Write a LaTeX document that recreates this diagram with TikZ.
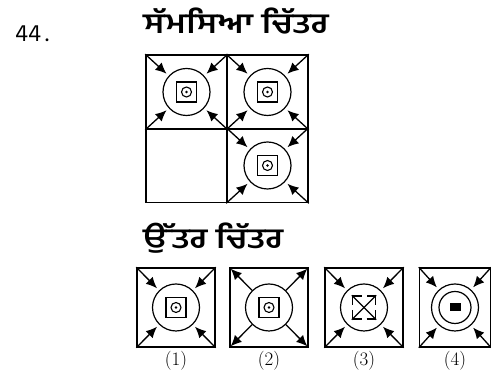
\documentclass[tikz,border=0pt]{standalone}
\usepackage{fontspec}
\newfontfamily\gurmukhi[Script=Gurmukhi, FakeStretch=1.22]{Hind Jalandhar}
\newfontfamily\numfont{Hind Jalandhar}
\usetikzlibrary{arrows.meta,positioning}
\tikzset{
  cell/.style={draw, line width=1.6pt, inner sep=0pt, minimum width=81pt, minimum height=74pt},
  ansbox/.style={draw, line width=1.5pt, inner sep=0pt, minimum width=78pt, minimum height=79pt},
  ring/.style={draw, circle, line width=1.2pt, inner sep=0pt, minimum size=47pt},
  innerring/.style={draw, circle, line width=1.2pt, inner sep=0pt, minimum size=32pt},
  sq/.style={draw, line width=1.4pt, inner sep=0pt, minimum size=20pt},
  dashsq/.style={draw, line width=1.4pt, inner sep=0pt, minimum size=23pt,
    dash pattern=on 18pt off 5pt, dash phase=9pt},
  eye/.style={draw, circle, line width=1.1pt, inner sep=0pt, minimum size=10pt},
  dot/.style={fill, circle, inner sep=0pt, minimum size=2.6pt},
  blob/.style={fill, inner sep=0pt, minimum width=11pt, minimum height=8pt},
  inarrow/.style={draw, -{Latex[length=11pt,width=10pt]}, line width=1.3pt, shorten >=3pt},
  outarrow/.style={draw, -{Latex[length=11pt,width=10pt]}, line width=1.3pt, shorten >=2pt},
  title/.style={font=\gurmukhi\bfseries\fontsize{28}{32}\selectfont, anchor=west, inner sep=0pt},
  num/.style={font=\fontsize{19}{22}\selectfont, inner sep=0pt}
}
\begin{document}
\begin{tikzpicture}[x=1pt,y=1pt]
  \useasboundingbox (0,0) rectangle (491,374);

  \node[anchor=west, inner sep=0pt, font=\numfont\fontsize{24}{28}\selectfont] (qnum) at (15,340) {44\,.};
  \node[title] (qtitle) at (143,353) {ਸੱਮਸਿਆ ਚਿੱਤਰ};
  \node[title] (atitle) at (143,136) {ਉੱਤਰ ਚਿੱਤਰ};

  % problem figure
  \node[cell] (tl) at (186.5,282) {};
  \node[cell] (tr) at (267.5,282) {};
  \node[cell] (bl) at (186.5,208.5) {};
  \node[cell] (br) at (267.5,208.5) {};
  \foreach \f in {tl,tr,br} {
    \node[ring] (\f-ring) at (\f) {};
    \node[sq] (\f-sq) at (\f) {};
    \node[eye] (\f-eye) at (\f) {};
    \node[dot] (\f-dot) at (\f) {};
    \foreach \c in {north west,north east,south west,south east}
      \draw[inarrow] (\f.\c) -- (\f-ring);
  }

  % answer figures
  \node[ansbox] (a1) at (176,66.5) {};
  \node[ansbox] (a2) at (269,66.5) {};
  \node[ansbox] (a3) at (364,66.5) {};
  \node[ansbox, minimum width=71pt] (a4) at (455,66.5) {};

  \node[ring] (a1-ring) at (a1) {};
  \node[sq] (a1-sq) at (a1) {};
  \node[eye] (a1-eye) at (a1) {};
  \node[dot] (a1-dot) at (a1) {};

  \node[ring] (a2-ring) at (a2) {};
  \node[sq] (a2-sq) at (a2) {};
  \node[eye] (a2-eye) at (a2) {};
  \node[dot] (a2-dot) at (a2) {};

  \node[ring] (a3-ring) at (a3) {};
  \node[dashsq] (a3-sq) at (a3) {};
  \draw[line width=1.2pt] (a3-sq.north west) -- (a3-sq.south east);
  \draw[line width=1.2pt] (a3-sq.north east) -- (a3-sq.south west);

  \node[ring] (a4-ring) at (a4) {};
  \node[innerring] (a4-inner) at (a4) {};
  \node[blob] (a4-blob) at (a4) {};

  \foreach \c in {north west,north east,south west,south east} {
    \draw[inarrow] (a1.\c) -- (a1-ring);
    \draw[outarrow] (a2-ring) -- (a2.\c);
    \draw[inarrow] (a3.\c) -- (a3-ring);
    \draw[inarrow] (a4.\c) -- (a4-ring);
  }

  \node[num, below=3pt of a1] (l1) {(1)};
  \node[num, below=3pt of a2] (l2) {(2)};
  \node[num, below=3pt of a3] (l3) {(3)};
  \node[num, below=3pt of a4] (l4) {(4)};
\end{tikzpicture}
\end{document}
